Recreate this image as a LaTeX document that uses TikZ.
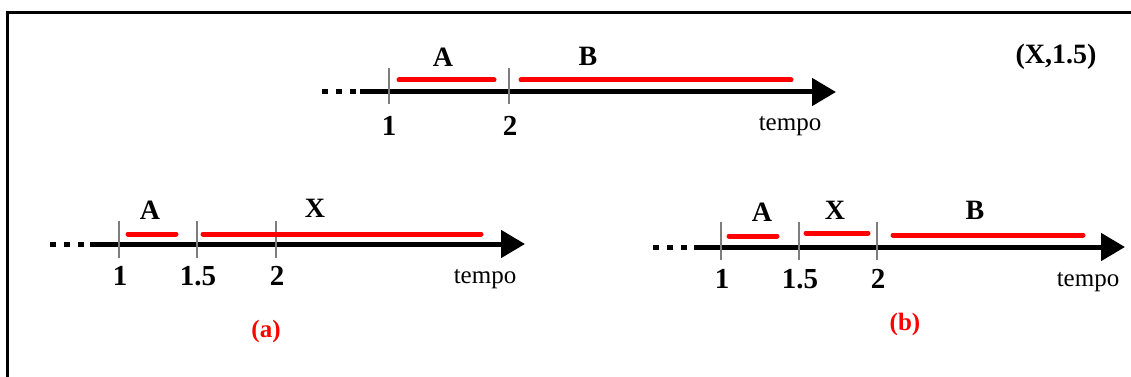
\documentclass[tikz,border=0pt]{standalone}
\usepackage{fontspec}
\setmainfont{Liberation Serif}
\usetikzlibrary{arrows.meta}
\definecolor{barred}{RGB}{255,0,0}
\definecolor{tickgray}{RGB}{125,125,125}
\begin{document}
\begin{tikzpicture}[x=1pt,y=-1pt,
  axisline/.style={line width=5pt,-{Triangle[length=24pt,width=27pt]}},
  dotline/.style={line width=5pt,dash pattern=on 6pt off 8pt},
  tickline/.style={line width=1.3pt,tickgray},
  bar/.style={line width=5pt,barred,line cap=round},
  lab/.style={inner sep=0pt,font=\fontsize{28}{30}\selectfont\bfseries},
  num/.style={inner sep=0pt,font=\fontsize{29}{31}\selectfont\bfseries},
  tempolab/.style={inner sep=0pt,anchor=base,font=\fontsize{25}{27}\selectfont},
  caption/.style={inner sep=0pt,text=barred,font=\fontsize{25}{27}\selectfont\bfseries}]
\useasboundingbox (0,0) rectangle (1131,377);
% frame
\draw[line width=3pt] (7,377) -- (7,13) -- (1131,13);

% ---------- top timeline ----------
\coordinate (t0) at (322,92);
\coordinate (t1) at (360,92);
\coordinate (tend) at (836,92);
\draw[dotline] (t0) -- (t1);
\draw[axisline] (t1) -- (tend);
\coordinate (tk1a) at (389,68); \coordinate (tk1b) at (389,104);
\coordinate (tk2a) at (509,68); \coordinate (tk2b) at (509,104);
\draw[tickline] (tk1a) -- (tk1b);
\draw[tickline] (tk2a) -- (tk2b);
\coordinate (tAa) at (399,80); \coordinate (tAb) at (494,80);
\coordinate (tBa) at (521,80); \coordinate (tBb) at (791,80);
\draw[bar] (tAa) -- (tAb);
\draw[bar] (tBa) -- (tBb);
\node[lab] (tA) at (443,57) {A};
\node[lab] (tB) at (588,56) {B};
\node[num] (tn1) at (389,126) {1};
\node[num] (tn2) at (510,126) {2};
\node[tempolab] (ttempo) at (790,131) {tempo};
\node[lab] (pair) at (1056,57) {(X,1.5)};

% ---------- bottom-left timeline (a) ----------
\coordinate (a0) at (50,244);
\coordinate (a1) at (90,244);
\coordinate (aend) at (525,244);
\draw[dotline] (a0) -- (a1);
\draw[axisline] (a1) -- (aend);
\coordinate (ak1a) at (119,221); \coordinate (ak1b) at (119,258);
\coordinate (ak2a) at (197,221); \coordinate (ak2b) at (197,258);
\coordinate (ak3a) at (276,221); \coordinate (ak3b) at (276,258);
\draw[tickline] (ak1a) -- (ak1b);
\draw[tickline] (ak2a) -- (ak2b);
\draw[tickline] (ak3a) -- (ak3b);
\coordinate (aAa) at (128,234); \coordinate (aAb) at (176,234);
\coordinate (aXa) at (203,234); \coordinate (aXb) at (481,234);
\draw[bar] (aAa) -- (aAb);
\draw[bar] (aXa) -- (aXb);
\node[lab] (aA) at (150,210) {A};
\node[lab] (aX) at (315,208) {X};
\node[num] (an1) at (120,276) {1};
\node[num] (an2) at (198,276) {1.5};
\node[num] (an3) at (277,276) {2};
\node[tempolab] (atempo) at (485,283) {tempo};
\node[caption] (capa) at (266,331) {(a)};

% ---------- bottom-right timeline (b) ----------
\coordinate (b0) at (653,247);
\coordinate (b1) at (694,247);
\coordinate (bend) at (1125,247);
\draw[dotline] (b0) -- (b1);
\draw[axisline] (b1) -- (bend);
\coordinate (bk1a) at (721,222); \coordinate (bk1b) at (721,260);
\coordinate (bk2a) at (799,222); \coordinate (bk2b) at (799,260);
\coordinate (bk3a) at (877,222); \coordinate (bk3b) at (877,260);
\draw[tickline] (bk1a) -- (bk1b);
\draw[tickline] (bk2a) -- (bk2b);
\draw[tickline] (bk3a) -- (bk3b);
\coordinate (bAa) at (729,236); \coordinate (bAb) at (777,236);
\coordinate (bXa) at (806,233); \coordinate (bXb) at (868,233);
\coordinate (bBa) at (893,235); \coordinate (bBb) at (1083,235);
\draw[bar] (bAa) -- (bAb);
\draw[bar] (bXa) -- (bXb);
\draw[bar] (bBa) -- (bBb);
\node[lab] (bA) at (762,212) {A};
\node[lab] (bX) at (835,210) {X};
\node[lab] (bB) at (975,210) {B};
\node[num] (bn1) at (722,279) {1};
\node[num] (bn2) at (800,279) {1.5};
\node[num] (bn3) at (878,279) {2};
\node[tempolab] (btempo) at (1088,286) {tempo};
\node[caption] (capb) at (905,324) {(b)};
\end{tikzpicture}
\end{document}
